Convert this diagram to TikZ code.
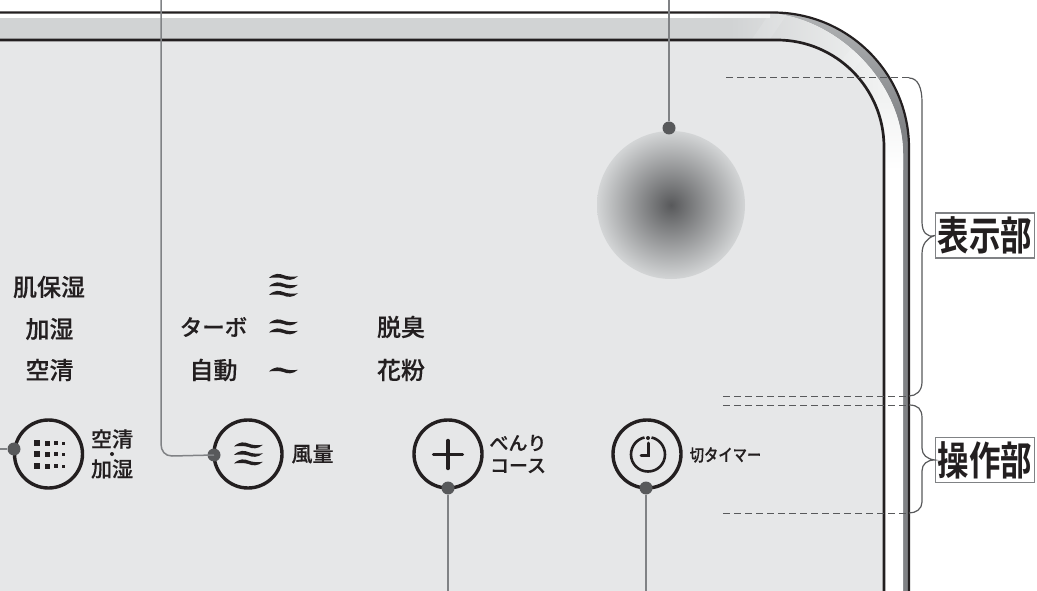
\documentclass[tikz,border=0pt]{standalone}
\usepackage{fontspec}
\setmainfont[FakeBold=.25]{Noto Sans CJK JP Medium}
\newfontfamily\jpbold{Noto Sans CJK JP Bold}
\usetikzlibrary{shadings}
\definecolor{ink}{HTML}{231F20}
\definecolor{panel}{HTML}{E6E7E8}
\definecolor{band}{HTML}{D1D3D4}
\definecolor{rim}{HTML}{808285}
\definecolor{dotc}{HTML}{58595B}
\definecolor{glow}{HTML}{F1F2F2}
\tikzset{
 x=1bp,y=-1bp,
 label/.style={inner sep=0pt,text=ink,font=\fontsize{#1bp}{#1bp}\selectfont},
 label/.default=24,
 btn/.style={draw=ink,line width=3.4bp,circle,minimum size=68bp,inner sep=0pt},
 pin/.style={fill=dotc,circle,minimum size=13bp,inner sep=0pt},
 leader/.style={draw=rim,line width=1.5bp},
 dashline/.style={draw=dotc,line width=1bp,dash pattern=on 6.5bp off 4.5bp},
 bracket/.style={draw=dotc,line width=1.2bp},
 tag/.style={draw=rim,line width=1.4bp,fill=white,inner sep=0pt,minimum width=99bp,minimum height=45bp,text=ink,font=\jpbold\fontsize{40}{40}\selectfont},
 wavepic/.pic={\fill[ink] (-14.5,1.4) .. controls (-9,-3.6) and (-4,-3.2) .. (0,-1.4) .. controls (4,.2) and (9,.6) .. (14.5,-.2) .. controls (9,4.4) and (4,3.8) .. (0,2) .. controls (-5,.6) and (-9,1) .. (-14.5,1.4) -- cycle;}
}
\begin{document}
\begin{tikzpicture}
\useasboundingbox (0,0) rectangle (1037,591);
\clip (0,0) rectangle (1037,591);
% outer body
\fill[rim] (0,12.5) -- (773,12.5) .. controls (848,12.5) and (909,73) .. (909,148) -- (909,591) -- (0,591) -- cycle;
\begin{scope}
\clip (0,12.5) -- (773,12.5) .. controls (848,12.5) and (909,73) .. (909,148) -- (909,591) -- (0,591) -- cycle;
\shade[top color=band!60!rim,bottom color=rim] (700,12) rectangle (915,130);
\end{scope}
\begin{scope}
\clip (0,13) -- (766,13) .. controls (836,16) and (903,82) .. (903,154) -- (903,591) -- (0,591) -- cycle;
\fill[white] (0,0) rectangle (1037,591);
\fill[band] (0,18) rectangle (740,100);
\shade[left color=band,right color=glow] (730,13) rectangle (885,100);
\shade[left color=glow,right color=glow] (885,13) rectangle (905,100);
\shade[top color=glow,bottom color=white] (790,100) rectangle (905,170);
\shade[left color=white,right color=glow] (690,13) rectangle (770,18);
\fill[white,opacity=.12] (772,10) -- (790,10) -- (768,42) -- (750,42) -- cycle;
\fill[white,opacity=.12] (850,50) -- (870,50) -- (820,110) -- (800,110) -- cycle;
\end{scope}
\draw[ink,line width=2.2bp] (0,12.5) -- (773,12.5) .. controls (848,12.5) and (909,73) .. (909,148) -- (909,591);
% panel
\fill[panel] (0,40) -- (777,40) .. controls (836,40) and (884,88) .. (884,147) -- (884,591) -- (0,591) -- cycle;
\draw[ink,line width=2.7bp] (0,40) -- (777,40) .. controls (836,40) and (884,88) .. (884,147) -- (884,591);
% display
\shade[inner color=dotc,outer color=band!90!panel] (671,205) circle[radius=74];
% mode labels
\node[label=24] (hada) at (49,287) {肌保湿};
\node[label=24] (kashitsu) at (49.5,329) {加湿};
\node[label=24] (kusei) at (49.5,370) {空清};
\node[label=22.5] (turbo) at (213.5,327) {ターボ};
\node[label=24] (jido) at (213.5,370) {自動};
\node[label=24] (dasshu) at (401,327) {脱臭};
\node[label=24] (kafun) at (401,370) {花粉};
\pic at (283.5,276.5) {wavepic};
\pic at (283.5,285) {wavepic};
\pic at (283.5,293.5) {wavepic};
\pic at (283.5,322) {wavepic};
\pic at (283.5,331) {wavepic};
\pic at (283.5,370) {wavepic};
% buttons
\node[btn] (b1) at (48.5,454) {};
\node[btn] (b2) at (248,454) {};
\node[btn] (b3) at (448,454) {};
\node[btn] (b4) at (647,454) {};
\foreach \yy in {443,454,466}{
 \fill[ink] (34,\yy-3) rectangle +(6.2,6.2);
 \fill[ink] (45,\yy-2.5) rectangle +(5,5);
 \fill[ink] (54,\yy-2) rectangle +(3.8,3.8);
 \fill[ink] (62,\yy-1.5) rectangle +(3,3);
}
\pic at (248.5,445) {wavepic};
\pic at (248.5,453.5) {wavepic};
\pic at (248.5,462) {wavepic};
\draw[ink,line width=3.4bp,line cap=round] (433.5,454.5) -- (462.5,454.5) (448,440.5) -- (448,468.5);
% clock
\draw[ink,line width=2.6bp] (651.5,437.5) .. controls (659,439) and (665,446) .. (665,454.5) .. controls (665,464) and (657.5,471.5) .. (648,471.5) .. controls (638.5,471.5) and (631,464) .. (631,454.5) .. controls (631,446) and (637,439) .. (644.5,437.5);
\fill[ink] (648,438) circle[radius=2];
\draw[ink,line width=3bp,line cap=round] (648,443) -- (648,455) -- (641,455);
% button labels
\node[label=21] (t1) at (112,439) {空清};
\fill[ink] (112,454) circle[radius=2];
\node[label=21] (t2) at (112,469) {加湿};
\node[label=21] (t3) at (312.5,454) {風量};
\node[label=19] (t4) at (518,443) {べんり};
\node[label=19] (t5) at (518,466) {コース};
\node[label=17] (t6) at (725.5,455) {\scalebox{.84}[1]{切タイマー}};
% leaders
\coordinate (top1) at (161,0);
\coordinate (top2) at (669,0);
\coordinate (left1) at (0,449);
\coordinate (bot3) at (448,591);
\coordinate (bot4) at (646,591);
\node[pin] (p0) at (669,128) {};
\node[pin] (p1) at (14,449) {};
\node[pin] (p2) at (214,455) {};
\node[pin] (p3) at (448,488) {};
\node[pin] (p4) at (646,488) {};
\draw[leader] (top1) -- (161,444) .. controls (161,451) and (165,456) .. (172,456) -- (p2.center);
\draw[leader] (top2) -- (p0);
\draw[leader] (left1) -- (p1);
\draw[leader] (p3) -- (bot3);
\draw[leader] (p4) -- (bot4);
% tags
\node[tag] (display) at (985,235.5) {\scalebox{.79}[1]{表示部}};
\node[tag] (operate) at (985,460) {\scalebox{.79}[1]{操作部}};
% dashed guides and brackets
\draw[dashline] (726,78) -- (909,78);
\draw[dashline] (723,396) -- (909,396);
\draw[dashline] (723,405) -- (909,405);
\draw[dashline] (723,513) -- (909,513);
\draw[bracket] (909,78) .. controls (918,78) and (922,88) .. (922,102) -- (922,222) .. controls (922,232) and (927,238) .. (display.west) .. controls (927,238) and (922,244) .. (922,254) -- (922,382) .. controls (922,391) and (916,396) .. (909,396);
\draw[bracket] (909,405) .. controls (918,405) and (922,409) .. (922,418) -- (922,448) .. controls (922,455) and (927,459) .. (operate.west) .. controls (927,460) and (922,464) .. (922,471) -- (922,502) .. controls (922,509) and (916,513) .. (909,513);
\end{tikzpicture}
\end{document}
